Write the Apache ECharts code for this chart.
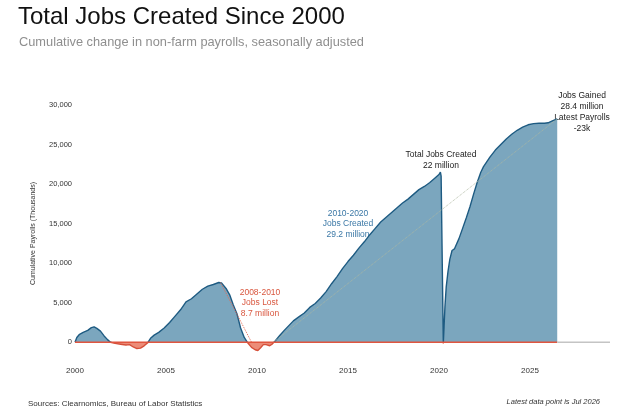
<!DOCTYPE html>
<html>
<head>
<meta charset="utf-8">
<script src="https://cdn.jsdelivr.net/npm/echarts@6/dist/echarts.min.js"></script>
<style>
  html, body { margin: 0; padding: 0; background: #fff; }
  #main { width: 624px; height: 416px; }
</style>
</head>
<body>
<div id="main"></div>
<script>
// cumulative change in payrolls since Jan 2000 (thousands)
var years = [
  2000.0, 2000.1, 2000.25, 2000.45, 2000.7, 2000.9, 2001.05, 2001.2, 2001.4, 2001.6, 2001.8, 2001.95,
  2002.2, 2002.5, 2002.8, 2003.0, 2003.2, 2003.4, 2003.6, 2003.8, 2004.0, 2004.15, 2004.35, 2004.6,
  2004.9, 2005.2, 2005.5, 2005.8, 2006.1, 2006.4, 2006.7, 2007.0, 2007.3, 2007.6, 2007.9, 2008.05,
  2008.3, 2008.5, 2008.7, 2008.9, 2009.1, 2009.3, 2009.5, 2009.7, 2009.9, 2010.05, 2010.2, 2010.35,
  2010.5, 2010.7, 2010.85, 2011.0, 2011.25, 2011.5, 2011.75, 2012.0, 2012.3, 2012.6, 2012.9, 2013.2,
  2013.5, 2013.8, 2014.1, 2014.4, 2014.7, 2015.0, 2015.3, 2015.6, 2015.9, 2016.2, 2016.5, 2016.8,
  2017.1, 2017.4, 2017.7, 2018.0, 2018.3, 2018.6, 2018.9, 2019.2, 2019.5, 2019.8, 2020.0, 2020.08,
  2020.12, 2020.24, 2020.33, 2020.4, 2020.5, 2020.6, 2020.72, 2020.85, 2020.95, 2021.1, 2021.3, 2021.5,
  2021.7, 2021.9, 2022.1, 2022.3, 2022.45, 2022.8, 2023.1, 2023.4, 2023.7, 2024.0, 2024.3, 2024.6,
  2024.9, 2025.2, 2025.5, 2025.8, 2026.0, 2026.2, 2026.5
];
var payrolls = [
  0, 600, 1000, 1250, 1500, 1850, 1950, 1750, 1400, 800, 300, 0,
  -150, -250, -350, -300, -600, -800, -750, -450, -50, 500, 900, 1250,
  1800, 2500, 3300, 4100, 5100, 5500, 6100, 6700, 7100, 7300, 7550, 7500,
  6800, 6000, 4700, 3600, 1800, 600, -100, -650, -950, -1050, -700, -300,
  -300, -450, -200, 150, 850, 1500, 2100, 2700, 3200, 3700, 4400, 4900,
  5600, 6400, 7400, 8300, 9300, 10200, 11000, 11900, 12700, 13600, 14400, 15200,
  15800, 16400, 17000, 17600, 18100, 18700, 19300, 19700, 20200, 20800, 21200, 21500,
  21000, -150, 4500, 7000, 9000, 10500, 11600, 11800, 12000, 13100, 14400, 15700,
  17100, 18700, 20200, 21500, 22200, 23400, 24300, 25000, 25700, 26300, 26800, 27200,
  27500, 27650, 27700, 27700, 27750, 27950, 28250
];

// guide lines drawn on the chart
var lossLine = [[2008.0, 7550], [2009.7, 0]];
var gainLine = [[2010.9, 0], [2026.5, 28250]];
var zeroLine = [[2000, 0], [2026.5, 0]];
var emptyLine = [[2026.5, 0], [2029.4, 0]];

var xTicks = [2000, 2005, 2010, 2015, 2020, 2025];
var yTicks = [0, 5000, 10000, 15000, 20000, 25000, 30000];

var series = years.map(function (y, i) { return [y, payrolls[i]]; });

var font = '"Liberation Sans", Arial, sans-serif';

// colour above / below zero, split where the zero line falls on screen
function split(zeroY, up, down) {
    return new echarts.graphic.LinearGradient(0, zeroY - 0.5, 0, zeroY + 0.5, [
	{ offset: 0, color: up },
	{ offset: 0.5, color: up },
	{ offset: 0.5, color: down },
	{ offset: 1, color: down }
    ], true);
}

var myChart = echarts.init(document.getElementById('main'));
myChart.setOption({
    animation: false,
    grid: {
	left: 75,
	right: 14,
	top: 105,
	bottom: 54
    },
    xAxis: {
	type: 'value',
	min: 2000,
	max: 2029.4,
	interval: 5,
	axisLine: { show: false },
	axisTick: { show: false },
	splitLine: { show: false },
	axisLabel: {
	    margin: 5,
	    fontSize: 8,
	    color: '#333',
	    fontFamily: font,
	    formatter: function (v) {
		return xTicks.indexOf(v) >= 0 ? String(v) : '';
	    }
	}
    },
    yAxis: {
	type: 'value',
	min: -2500,
	max: 30000,
	interval: 2500,
	name: 'Cumulative Payrolls (Thousands)',
	nameLocation: 'middle',
	nameGap: 38,
	nameTextStyle: { fontSize: 7, color: '#333', fontFamily: font },
	axisLine: { show: false },
	axisTick: { show: false },
	splitLine: { show: false },
	axisLabel: {
	    margin: 3,
	    fontSize: 7.5,
	    color: '#333',
	    fontFamily: font,
	    formatter: function (v) {
		return yTicks.indexOf(v) >= 0 ? v.toLocaleString('en-US') : '';
	    }
	}
    },
    series: [{
	name: 'fill',
	type: 'line',
	data: series,
	symbol: 'none',
	lineStyle: { width: 0 },
	areaStyle: { opacity: 1, color: '#7ba6be' },
	z: 1
    }, {
	name: 'outline',
	type: 'line',
	data: series,
	symbol: 'none',
	lineStyle: { width: 1.4, color: '#1e5b82' },
	z: 3
    }, {
	type: 'line',
	data: lossLine,
	symbol: 'none',
	lineStyle: { color: '#e06a55', width: 1, type: 'dotted' },
	z: 4
    }, {
	type: 'line',
	data: gainLine,
	symbol: 'none',
	lineStyle: { color: '#aeb8a0', width: 0.9, type: 'dotted' },
	z: 4
    }, {
	type: 'line',
	data: zeroLine,
	symbol: 'none',
	lineStyle: { color: '#e0553f', width: 1.6 },
	z: 5
    }, {
	type: 'line',
	data: emptyLine,
	symbol: 'none',
	lineStyle: { color: '#c4c4c4', width: 1.6 },
	z: 5
    }],
    graphic: [{
	type: 'text', left: 18, top: 5,
	style: { text: 'Total Jobs Created Since 2000', fontSize: 24, fill: '#111', fontFamily: font }
    }, {
	type: 'text', left: 19, top: 36,
	style: { text: 'Cumulative change in non-farm payrolls, seasonally adjusted', fontSize: 12.8, fill: '#8f8f8f', fontFamily: font }
    }, {
	type: 'text', x: 260, y: 303,
	style: { text: '2008-2010\nJobs Lost\n8.7 million', fontSize: 8.5, lineHeight: 10.7, fill: '#d9573f',
		 align: 'center', verticalAlign: 'middle', fontFamily: font }
    }, {
	type: 'text', x: 348, y: 224,
	style: { text: '2010-2020\nJobs Created\n29.2 million', fontSize: 8.5, lineHeight: 10.8, fill: '#3b78a6',
		 align: 'center', verticalAlign: 'middle', fontFamily: font }
    }, {
	type: 'text', x: 441, y: 160,
	style: { text: 'Total Jobs Created\n22 million', fontSize: 8.5, lineHeight: 10.8, fill: '#222',
		 align: 'center', verticalAlign: 'middle', fontFamily: font }
    }, {
	type: 'text', x: 582, y: 112,
	style: { text: 'Jobs Gained\n28.4 million\nLatest Payrolls\n-23k', fontSize: 8.5, lineHeight: 11, fill: '#222',
		 align: 'center', verticalAlign: 'middle', fontFamily: font }
    }, {
	type: 'text', x: 28, y: 404,
	style: { text: 'Sources: Clearnomics, Bureau of Labor Statistics', fontSize: 8, fill: '#333',
		 verticalAlign: 'middle', fontFamily: font }
    }, {
	type: 'text', x: 600, y: 402,
	style: { text: 'Latest data point is Jul 2026', fontSize: 7.5, fontStyle: 'italic', fill: '#333',
		 align: 'right', verticalAlign: 'middle', fontFamily: font }
    }]
});

// red below zero, blue above
var zeroY = myChart.convertToPixel({ gridIndex: 0 }, [2000, 0])[1];
myChart.setOption({
    series: [{
	name: 'fill',
	areaStyle: { color: split(zeroY, '#7ba6be', '#ec8c78') }
    }, {
	name: 'outline',
	lineStyle: { color: split(zeroY, '#1e5b82', '#d6503a') }
    }]
});
</script>
</body>
</html>
